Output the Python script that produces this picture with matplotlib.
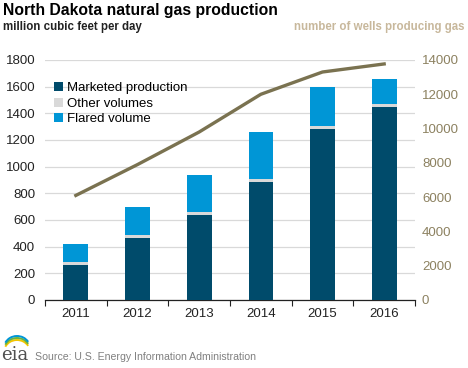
import numpy as np
import matplotlib.pyplot as plt
from matplotlib.patches import Arc

years = ['2011', '2012', '2013', '2014', '2015', '2016']
marketed = [266, 467, 640, 888, 1285, 1450]
other = [20, 17, 22, 22, 20, 22]
flared = [137, 215, 278, 352, 295, 188]
wells = [6100, 7900, 9800, 12000, 13300, 13770]

c_market = '#004b6b'
c_other = '#d9d9d9'
c_flared = '#0096d6'
c_line = '#7a7250'
c_right = '#8c8160'
c_tan = '#c8b89c'

plt.rcParams['font.family'] = ['Liberation Sans', 'DejaVu Sans']

fig = plt.figure(figsize=(4.68, 3.68), dpi=100)
ax = fig.add_axes([45 / 468, 1 - 300 / 368, 370 / 468, 240 / 368])

x = np.arange(len(years))
w = 0.4
m = np.array(marketed)
o = np.array(other)
f = np.array(flared)
ax.bar(x, m, w, color=c_market, label='Marketed production', zorder=3)
ax.bar(x, o, w, bottom=m, color=c_other, label='Other volumes', zorder=3)
ax.bar(x, f, w, bottom=m + o, color=c_flared, label='Flared volume', zorder=3)

ax.set_xlim(-0.5, 5.5)
ax.set_ylim(0, 1800)
ax.set_yticks(range(0, 1801, 200))
ax.yaxis.grid(True, color='#d9d9d9', lw=0.9, zorder=0)
ax.set_xticks(x)
ax.set_xticklabels(years, fontsize=9.5, color='#222222')
ax.set_xticks(np.arange(-0.5, 6, 1), minor=True)
ax.tick_params(axis='x', which='major', length=0, pad=6)
ax.tick_params(axis='x', which='minor', length=4, color='#222222', width=0.8)
ax.tick_params(axis='y', length=0, labelsize=9.5, labelcolor='#222222', pad=7)
for s in ['top', 'right', 'left']:
    ax.spines[s].set_visible(False)
ax.spines['bottom'].set_color('#222222')
ax.spines['bottom'].set_linewidth(0.9)

ax2 = ax.twinx()
ax2.plot(x, wells, color=c_line, lw=2.4, zorder=4)
ax2.set_ylim(0, 14000)
ax2.set_yticks(range(0, 14001, 2000))
ax2.tick_params(axis='y', length=0, labelsize=9.5, labelcolor=c_right, pad=5)
for s in ['top', 'right', 'left', 'bottom']:
    ax2.spines[s].set_visible(False)

leg = ax.legend(loc='upper left', bbox_to_anchor=(0.01, 0.93), frameon=False,
                fontsize=9.5, handlelength=0.7, handleheight=0.7,
                handletextpad=0.3, labelspacing=0.25, borderaxespad=0)

fig.text(3 / 468, 1 - 10 / 368, 'North Dakota natural gas production',
         fontsize=11.3, fontweight='bold', va='center', ha='left')
fig.text(3 / 468, 1 - 27 / 368, 'million cubic feet per day',
         fontsize=8.3, fontweight='bold', va='center', ha='left', color='#222222')
fig.text(465 / 468, 1 - 27 / 368, 'number of wells producing gas',
         fontsize=8.3, fontweight='bold', va='center', ha='right', color=c_tan)

fig.text(35 / 468, 1 - 357 / 368, 'Source: U.S. Energy Information Administration',
         fontsize=7.6, va='center', ha='left', color='#808080')
fig.text(1 / 468, 1 - 355 / 368, 'eia', fontsize=13, family='DejaVu Serif',
         va='center', ha='left', color='#505050')
for col, dy in [('#f2c500', 0), ('#6cb33f', 2), ('#0096d6', 4)]:
    arc = Arc((17 / 468, 1 - (352 - dy) / 368), 26 / 468, 24 / 368,
              theta1=35, theta2=150, color=col, lw=1.4, transform=fig.transFigure)
    fig.add_artist(arc)

fig.savefig('out.png', dpi=100)
